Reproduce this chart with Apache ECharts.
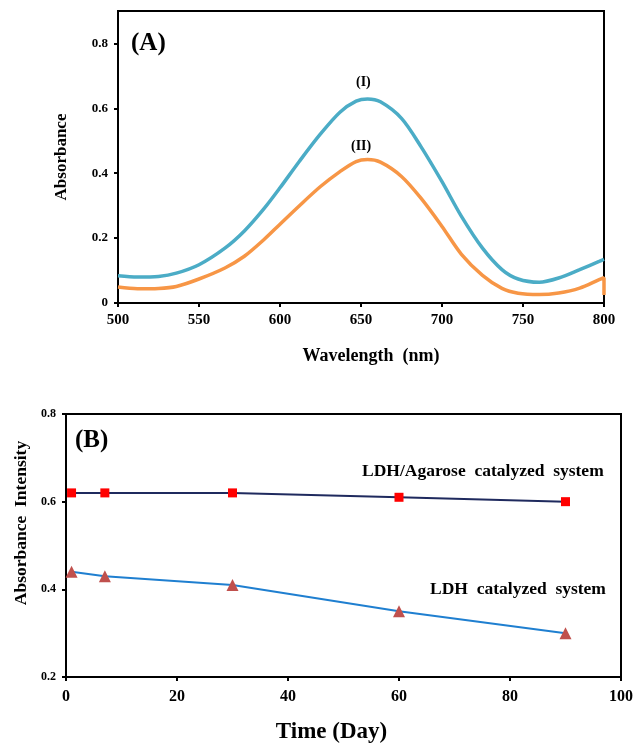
<!DOCTYPE html>
<html>
<head>
<meta charset="utf-8">
<script src="https://cdn.jsdelivr.net/npm/echarts@6/dist/echarts.min.js"></script>
<style>
  html, body { margin: 0; padding: 0; background: #fff; }
  #chart { width: 636px; height: 745px; }
</style>
</head>
<body>
<div id="chart"></div>
<script>
// (A) absorption spectra, wavelength in nm
var wavelength = [500, 512, 525, 536, 550, 566, 578, 590, 600, 612, 625, 637, 647, 654, 662, 675, 687, 700, 712, 725, 737, 747, 760, 772, 785, 797, 800];
var spectrumI  = [0.084, 0.080, 0.082, 0.092, 0.118, 0.169, 0.222, 0.290, 0.355, 0.437, 0.521, 0.588, 0.622, 0.629, 0.620, 0.569, 0.482, 0.374, 0.267, 0.169, 0.103, 0.074, 0.064, 0.077, 0.103, 0.128, 0.135];
var spectrumII = [0.049, 0.044, 0.045, 0.051, 0.074, 0.108, 0.144, 0.195, 0.243, 0.300, 0.359, 0.405, 0.436, 0.442, 0.434, 0.390, 0.323, 0.236, 0.150, 0.085, 0.045, 0.030, 0.026, 0.031, 0.046, 0.072, 0.078];

// (B) stability over time
var days = [1, 7, 30, 60, 90];
var agaroseSystem = [0.62, 0.62, 0.62, 0.61, 0.60];
var ldhSystem = [0.44, 0.43, 0.41, 0.35, 0.30];

var ticksA = [0, 0.2, 0.4, 0.6, 0.8];

function pairs(xs, ys) {
  return xs.map(function (x, i) { return [x, ys[i]]; });
}

var font = '"Liberation Serif", "Times New Roman", serif';
var axisLineStyle = { color: '#000', width: 2 };

var chart = echarts.init(document.getElementById('chart'));

var option = {
  backgroundColor: '#fff',
  animation: false,
  textStyle: { fontFamily: font, color: '#000', fontWeight: 'bold' },
  grid: [
    { left: 118, top: 11, width: 486, height: 292, show: true, borderColor: '#000', borderWidth: 2 },
    { left: 66, top: 414, width: 556, height: 265, show: true, borderColor: '#000', borderWidth: 2 }
  ],
  xAxis: [
    {
      gridIndex: 0, type: 'value', min: 500, max: 800, interval: 50,
      name: 'Wavelength  (nm)', nameLocation: 'middle', nameGap: 44,
      nameTextStyle: { fontFamily: font, fontSize: 18, fontWeight: 'bold', color: '#000', padding: [0, 0, 0, 20] },
      axisLine: { lineStyle: axisLineStyle },
      axisTick: { inside: false, length: 4, lineStyle: axisLineStyle },
      axisLabel: { fontFamily: font, fontSize: 15, fontWeight: 'bold', color: '#000', margin: 10 },
      splitLine: { show: false }
    },
    {
      gridIndex: 1, type: 'value', min: 0, max: 100, interval: 20,
      name: 'Time (Day)', nameLocation: 'middle', nameGap: 44,
      nameTextStyle: { fontFamily: font, fontSize: 23, fontWeight: 'bold', color: '#000', padding: [0, 24, 0, 0] },
      axisLine: { lineStyle: axisLineStyle },
      axisTick: { inside: false, length: 4, lineStyle: axisLineStyle },
      axisLabel: { fontFamily: font, fontSize: 16, fontWeight: 'bold', color: '#000', margin: 12 },
      splitLine: { show: false }
    }
  ],
  yAxis: [
    {
      gridIndex: 0, type: 'value', min: 0, max: 0.9,
      name: 'Absorbance', nameLocation: 'middle', nameGap: 48,
      nameTextStyle: { fontFamily: font, fontSize: 17, fontWeight: 'bold', color: '#000' },
      axisLine: { lineStyle: axisLineStyle },
      axisTick: { inside: false, length: 4, lineStyle: axisLineStyle, customValues: ticksA },
      axisLabel: { fontFamily: font, fontSize: 13, fontWeight: 'bold', color: '#000', margin: 10, customValues: ticksA },
      splitLine: { show: false }
    },
    {
      gridIndex: 1, type: 'value', min: 0.2, max: 0.8, interval: 0.2,
      name: 'Absorbance  Intensity', nameLocation: 'middle', nameGap: 36,
      nameTextStyle: { fontFamily: font, fontSize: 17.5, fontWeight: 'bold', color: '#000', padding: [0, 0, 0, 45] },
      axisLine: { lineStyle: axisLineStyle },
      axisTick: { inside: false, length: 4, lineStyle: axisLineStyle },
      axisLabel: { fontFamily: font, fontSize: 12, fontWeight: 'bold', color: '#000', margin: 10 },
      splitLine: { show: false }
    }
  ],
  series: [
    {
      name: '(I)', type: 'line', xAxisIndex: 0, yAxisIndex: 0,
      data: pairs(wavelength, spectrumI), smooth: 0.3, showSymbol: false,
      lineStyle: { color: '#4BACC6', width: 3.5 }
    },
    {
      name: '(II)', type: 'line', xAxisIndex: 0, yAxisIndex: 0,
      data: pairs(wavelength, spectrumII).concat([[800, 0.025]]), smooth: 0.3, showSymbol: false,
      lineStyle: { color: '#F79646', width: 3.5 }
    },
    {
      name: 'LDH/Agarose catalyzed system', type: 'line', xAxisIndex: 1, yAxisIndex: 1,
      data: pairs(days, agaroseSystem), symbol: 'rect', symbolSize: 9,
      lineStyle: { color: '#1F2A5E', width: 2 },
      itemStyle: { color: '#FF0000' }
    },
    {
      name: 'LDH catalyzed system', type: 'line', xAxisIndex: 1, yAxisIndex: 1,
      data: pairs(days, ldhSystem), symbol: 'triangle', symbolSize: 12,
      lineStyle: { color: '#1F7FD0', width: 2 },
      itemStyle: { color: '#C0504D' }
    }
  ],
  graphic: [
    { type: 'text', left: 131, top: 31, style: { text: '(A)', font: 'bold 25px ' + font, fill: '#000' } },
    { type: 'text', left: 356, top: 75, style: { text: '(I)', font: 'bold 14px ' + font, fill: '#000' } },
    { type: 'text', left: 351, top: 139, style: { text: '(II)', font: 'bold 14px ' + font, fill: '#000' } },
    { type: 'text', left: 75, top: 428, style: { text: '(B)', font: 'bold 25px ' + font, fill: '#000' } },
    { type: 'text', left: 362, top: 462, style: { text: 'LDH/Agarose  catalyzed  system', font: 'bold 17.5px ' + font, fill: '#000' } },
    { type: 'text', left: 430, top: 580, style: { text: 'LDH  catalyzed  system', font: 'bold 17.5px ' + font, fill: '#000' } }
  ]
};

chart.setOption(option);
</script>
</body>
</html>
